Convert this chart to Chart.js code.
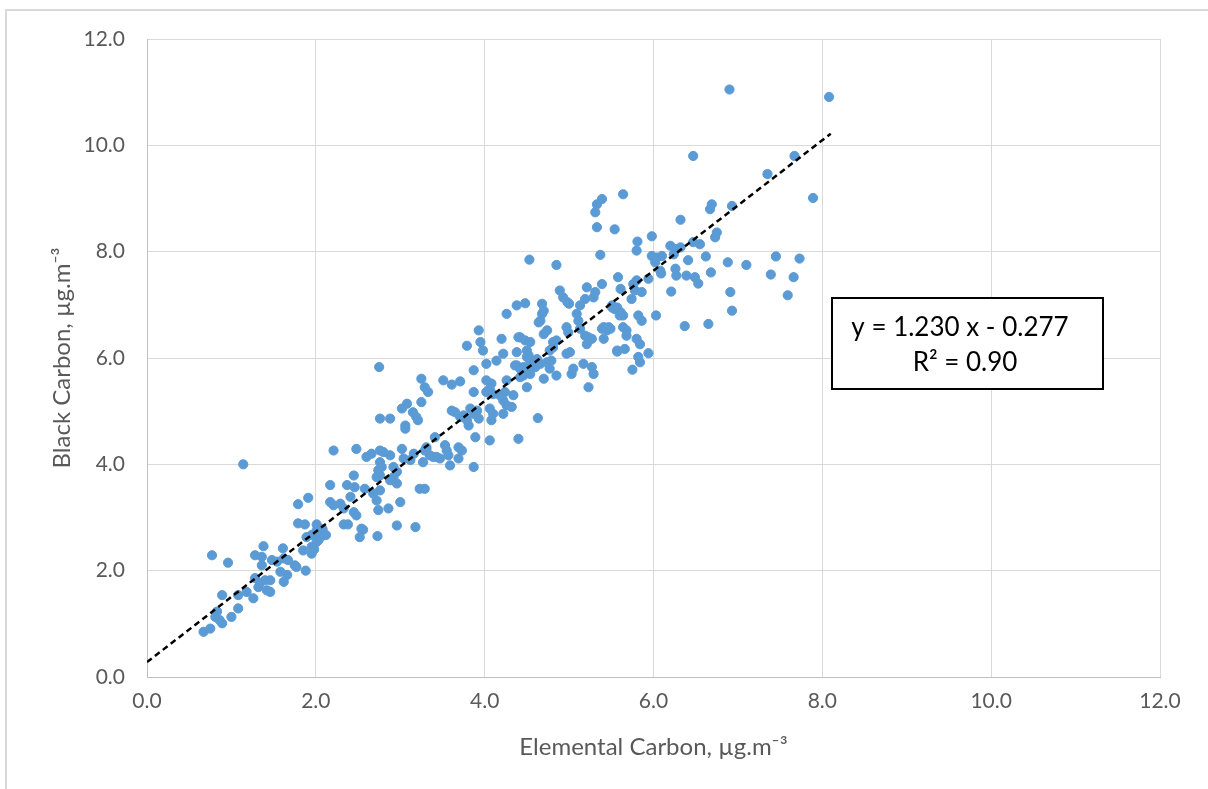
<!DOCTYPE html>
<html>
<head>
<meta charset="utf-8">
<script src="https://cdn.jsdelivr.net/npm/chart.js@4"></script>
<style>
html,body{margin:0;padding:0;background:#fff;overflow:hidden;}
canvas{display:block;}
</style>
</head>
<body>
<canvas id="c" width="1208" height="789"></canvas>
<script>
// Elemental Carbon (x) values, µg.m-3
const ecValues = [
0.67,0.75,0.81,0.83,0.86,0.89,0.89,0.77,0.96,1.00,1.08,1.08,1.18,1.26,1.28,1.32,1.34,1.40,1.42,1.46,1.46,1.28,1.36,1.36,1.38,1.48,1.54,1.58,1.61,1.62,1.62,1.66,1.67,1.75,1.77,1.79,1.79,1.85,1.87,1.88,1.89,1.91,1.95,1.95,1.95,2.00,2.01,2.01,2.01,2.03,2.12,1.14,2.05,1.98,2.08,
2.17,2.17,2.21,2.21,2.29,2.33,2.33,2.38,2.37,2.41,2.45,2.45,2.46,2.48,2.48,2.52,2.54,2.56,2.58,2.60,2.66,2.68,2.72,2.72,2.73,2.74,2.74,2.75,2.76,2.76,2.76,2.76,2.76,2.78,2.80,2.86,2.88,2.88,2.88,2.92,2.92,2.96,2.96,2.96,3.00,3.02,3.02,3.04,3.06,3.06,3.08,3.12,3.15,3.16,3.18,3.19,3.21,3.23,3.25,3.25,3.27,3.29,3.29,3.29,3.31,3.31,3.33,3.35,
3.39,3.41,3.43,3.47,3.51,3.53,3.55,3.57,3.59,3.61,3.61,3.65,3.69,3.69,3.71,3.71,3.73,3.75,3.79,3.79,3.81,3.83,3.87,3.87,3.87,3.87,3.89,3.91,3.93,3.93,3.95,3.98,4.02,4.02,4.02,4.06,4.06,4.06,4.08,4.08,4.10,4.10,4.14,4.18,4.20,4.22,4.22,4.22,4.24,4.26,4.26,4.26,4.32,4.34,4.36,4.38,4.38,4.38,4.40,4.40,4.42,4.42,4.42,4.46,4.46,4.48,4.48,4.48,4.50,4.50,4.50,
4.52,4.53,4.54,4.54,4.54,4.54,4.60,4.62,4.63,4.64,4.66,4.66,4.68,4.68,4.70,4.70,4.70,4.74,4.74,4.77,4.77,4.79,4.81,4.81,4.85,4.85,4.85,4.89,4.93,4.97,4.97,4.98,4.99,5.00,5.01,5.03,5.05,5.09,5.11,5.13,5.13,5.17,5.19,5.19,5.21,5.21,5.23,5.23,5.27,5.27,5.29,5.29,5.31,5.31,5.33,5.33,5.37,5.39,5.39,5.39,5.41,5.41,5.45,5.47,5.49,
5.51,5.51,5.54,5.54,5.57,5.57,5.57,5.58,5.60,5.61,5.61,5.64,5.64,5.64,5.66,5.68,5.68,5.74,5.75,5.76,5.78,5.80,5.80,5.80,5.81,5.82,5.82,5.84,5.84,5.86,5.86,5.94,5.94,5.98,5.98,6.02,6.03,6.04,6.08,6.09,6.10,6.20,6.21,6.24,6.26,6.27,6.27,6.32,6.32,6.37,6.39,6.41,6.47,6.47,6.49,6.53,6.55,6.62,6.65,6.67,6.68,6.69,6.73,6.75,6.88,6.90,6.91,6.93,6.93,7.10,7.35,7.39,7.45,7.59,7.66,7.67,7.73,7.89,8.08
];
// Black Carbon (y) values, µg.m-3
const bcValues = [
0.85,0.91,1.13,1.23,1.07,1.01,1.54,2.29,2.15,1.13,1.29,1.54,1.60,1.48,1.86,1.69,1.77,1.82,1.63,1.60,1.82,2.29,2.26,2.10,2.46,2.20,2.17,1.98,2.42,2.23,1.79,1.92,2.20,2.10,2.07,2.89,3.25,2.38,2.87,2.00,2.63,3.37,2.67,2.45,2.32,2.70,2.87,2.76,2.54,2.57,2.67,4.00,2.62,2.40,2.78,
3.61,3.29,3.23,4.26,3.26,3.17,2.87,2.87,3.61,3.39,3.79,3.10,3.57,3.04,4.29,2.63,2.79,2.77,3.54,4.14,4.20,3.45,3.32,3.76,2.65,3.89,3.14,5.83,4.26,4.04,3.79,3.51,4.86,3.95,4.23,3.17,4.17,3.70,4.86,3.95,3.76,3.86,3.64,2.85,3.29,4.29,5.05,4.11,4.73,4.67,5.14,4.08,4.98,4.20,2.82,4.89,4.83,3.54,5.61,5.17,4.04,5.45,3.54,4.26,4.32,4.29,5.36,4.17,
4.14,4.51,4.14,4.11,5.58,4.36,4.26,4.17,3.98,5.50,5.01,4.98,4.32,4.11,5.56,4.89,4.26,4.92,6.23,4.83,4.73,5.05,5.77,5.36,4.95,3.95,4.51,5.01,6.52,4.86,6.30,6.14,5.89,5.58,5.36,5.42,5.05,4.45,5.52,4.83,5.32,4.95,5.95,5.30,6.36,6.08,5.20,4.95,5.36,6.83,5.58,5.11,5.08,5.30,5.86,6.99,6.11,5.86,6.39,4.48,6.39,5.80,5.64,5.83,5.67,7.03,6.33,5.77,6.14,6.02,5.45,
6.05,7.85,5.95,5.86,5.70,6.30,5.83,5.98,4.87,6.67,6.70,5.89,7.02,6.83,6.89,6.45,5.61,6.52,5.92,6.14,5.80,5.95,6.30,6.20,7.75,6.33,5.67,7.27,7.14,6.58,6.08,7.05,6.48,7.02,6.11,5.70,5.80,6.83,6.70,6.99,6.55,5.89,7.11,6.42,7.33,6.26,6.39,5.45,6.36,5.83,7.14,5.70,7.24,8.74,8.89,8.46,7.94,8.99,7.39,6.55,6.58,6.36,6.52,6.58,6.55,
6.99,6.95,6.92,8.42,6.95,6.14,6.12,7.52,6.80,6.86,7.30,9.08,6.80,6.58,6.17,6.52,6.42,7.11,5.78,7.39,7.27,7.46,6.36,8.02,8.19,6.80,6.02,6.26,5.92,7.24,6.70,7.49,6.09,8.29,7.92,7.80,6.80,7.89,7.64,7.59,7.92,8.11,7.25,7.95,7.68,8.05,7.55,8.08,8.60,6.60,7.55,7.84,9.80,8.18,7.52,7.40,8.14,7.91,6.64,8.80,7.61,8.89,8.27,8.36,7.80,11.05,7.24,8.86,6.89,7.75,9.46,7.57,7.91,7.18,7.52,9.80,7.87,9.01,10.91
];
// Trendline endpoints as drawn in the picture
const trendX = [0, 8.1];
const trendY = [0.28, 10.22];
// Axis ticks
const tickValues = [0, 2, 4, 6, 8, 10, 12];
const xTitle = 'Elemental Carbon, µg.m⁻³';
const yTitle = 'Black Carbon, µg.m⁻³';
const eqLine1 = 'y = 1.230 x - 0.277';
const eqLine2 = 'R² = 0.90';

const points = ecValues.map((x, i) => ({x: x, y: bcValues[i]}));
const trend = trendX.map((x, i) => ({x: x, y: trendY[i]}));

const FONT = 'Lato, "Open Sans", sans-serif';
const TXT = '#595959';

const framePlugin = {
  id: 'frame',
  beforeDraw(chart) {
    const ctx = chart.ctx;
    ctx.save();
    ctx.fillStyle = '#ffffff';
    ctx.fillRect(0, 0, chart.width, chart.height);
    ctx.strokeStyle = '#d9d9d9';
    ctx.lineWidth = 2;
    ctx.beginPath();
    ctx.moveTo(6, chart.height + 5);
    ctx.lineTo(6, 10);
    ctx.lineTo(chart.width + 5, 10);
    ctx.stroke();
    ctx.restore();
  }
};

const eqBoxPlugin = {
  id: 'eqbox',
  afterDraw(chart) {
    const ctx = chart.ctx;
    ctx.save();
    ctx.fillStyle = '#ffffff';
    ctx.fillRect(832, 298, 271, 91);
    ctx.strokeStyle = '#000000';
    ctx.lineWidth = 2;
    ctx.strokeRect(832, 298, 271, 91);
    ctx.fillStyle = '#000000';
    ctx.font = '26px ' + FONT;
    ctx.textAlign = 'center';
    ctx.textBaseline = 'alphabetic';
    ctx.fillText(eqLine1, 960, 336);
    ctx.fillText(eqLine2, 965, 371);
    ctx.restore();
  }
};

new Chart(document.getElementById('c'), {
  type: 'scatter',
  data: {
    datasets: [
      {
        type: 'line',
        label: 'Trend',
        data: trend,
        borderColor: '#000000',
        borderWidth: 2.5,
        borderDash: [6, 4],
        pointRadius: 0,
        fill: false,
        order: 0
      },
      {
        label: 'BC vs EC',
        data: points,
        backgroundColor: '#5B9BD5',
        borderColor: '#5B9BD5',
        borderWidth: 1,
        pointRadius: 4.6,
        order: 1
      }
    ]
  },
  options: {
    responsive: false,
    animation: false,
    devicePixelRatio: 1,
    layout: {padding: {left: 0, top: 39, right: 48, bottom: 0}},
    plugins: {legend: {display: false}, tooltip: {enabled: false}},
    scales: {
      x: {
        type: 'linear',
        min: 0, max: 12,
        afterBuildTicks(scale) { scale.ticks = tickValues.map(v => ({value: v})); },
        afterFit(scale) { scale.height = 112; },
        ticks: {
          padding: 12,
          color: TXT,
          font: {family: FONT, size: 21},
          callback: v => Number(v).toFixed(1)
        },
        grid: {color: '#d9d9d9', lineWidth: 1, drawTicks: false},
        border: {color: '#bfbfbf', width: 1},
        title: {
          display: true, text: xTitle, color: TXT,
          font: {family: FONT, size: 24},
          padding: {top: 0, bottom: 27}
        }
      },
      y: {
        type: 'linear',
        min: 0, max: 12,
        afterBuildTicks(scale) { scale.ticks = tickValues.map(v => ({value: v})); },
        afterFit(scale) { scale.width = 147; },
        ticks: {
          padding: 22,
          color: TXT,
          font: {family: FONT, size: 21},
          callback: v => Number(v).toFixed(1)
        },
        grid: {color: '#d9d9d9', lineWidth: 1, drawTicks: false},
        border: {color: '#bfbfbf', width: 1},
        title: {
          display: true, text: yTitle, color: TXT,
          font: {family: FONT, size: 24},
          padding: {top: 48, bottom: 0}
        }
      }
    }
  },
  plugins: [framePlugin, eqBoxPlugin]
});
</script>
</body>
</html>
